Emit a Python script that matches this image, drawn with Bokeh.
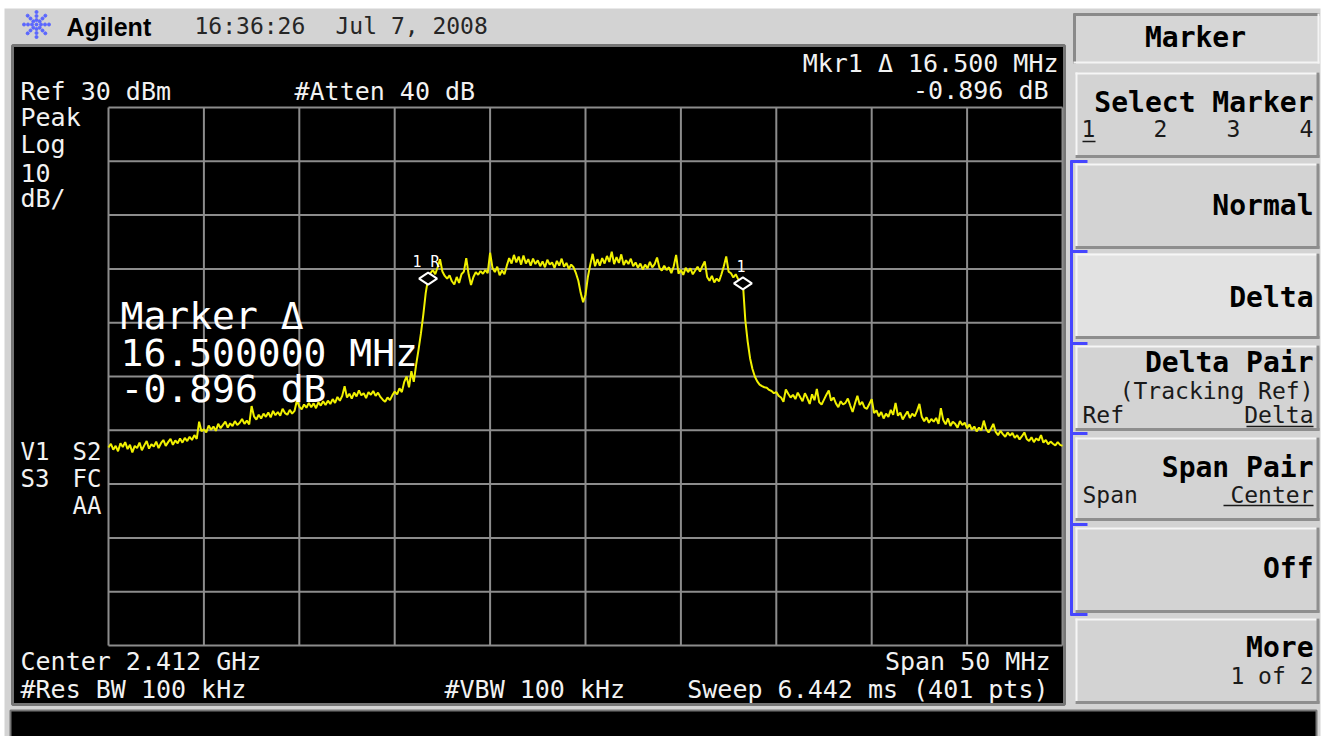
import math
import numpy as np
from bokeh.plotting import figure
from bokeh.models import Range1d
from bokeh.core.properties import value
from bokeh.embed import file_html
from bokeh.resources import INLINE

# ---------------- instrument settings / data ----------------
center_ghz = 2.412
span_ghz = 0.050
n_pts = 401
ref_dbm = 30.0
db_per_div = 10.0
n_div = 10

trace_dbm = [
    -33.2, -32.5, -33.6, -32.9, -33.9, -32.4, -33.1, -32.2, -33.5, -32.7, -34.1, -32.9, -33.3, -32.3, -33.7, -32.8, -32.0, -33.4, -32.6, -33.0,
    -32.1, -33.3, -32.4, -31.8, -32.9, -32.2, -31.6, -32.7, -31.9, -32.4, -31.5, -32.3, -31.4, -32.0, -31.2, -31.8, -30.9, -31.6, -28.4, -30.2,
    -29.8, -30.4, -29.1, -29.9, -29.3, -30.1, -28.8, -29.6, -29.0, -28.4, -29.5, -28.7, -29.2, -28.3, -29.0, -28.6, -27.9, -28.8, -28.2, -28.9,
    -25.5, -27.4, -28.0, -27.1, -27.8, -26.9, -27.5, -26.7, -27.6, -26.4, -27.2, -26.6, -27.3, -26.0, -26.8, -27.1, -26.2, -26.9, -26.4, -24.4,
    -25.6, -26.1, -25.2, -25.8, -24.9, -25.7, -25.0, -25.9, -24.8, -25.4, -24.6, -25.3, -24.5, -25.1, -24.2, -24.9, -23.8, -24.5, -23.6, -21.8,
    -23.9, -23.2, -24.1, -23.0, -23.7, -22.6, -23.5, -23.1, -24.0, -22.9, -23.4, -22.7, -23.6, -23.0, -23.8, -24.3, -24.7, -23.9, -24.4, -23.5,
    -22.8, -23.3, -22.2, -22.9, -21.0, -20.0, -22.0, -19.0, -21.0, -17.8, -15.0, -12.0, -8.5, -4.5, -1.804, -0.8, -0.2, -1.0, 0.3, 1.8,
    -0.5, -1.3, -1.8, -1.2, -2.3, -2.9, -1.5, -2.6, -1.0, -0.5, 2.0, -1.0, -3.0, -1.5, -0.6, -1.1, -0.4, -0.9, -0.2, -0.8,
    3.0, 0.2, -0.6, 0.4, -1.2, -0.3, -1.0, 0.6, 2.0, 1.0, 2.6, 1.2, 2.3, 0.8, 2.5, 1.0, 1.8, 0.6, 1.9, 0.9,
    1.6, 0.5, 1.4, 0.3, 1.7, 0.8, 1.2, 0.2, 1.5, 0.6, 1.9, 0.4, 1.1, 0.0, 0.8, 0.3, -0.8, -2.2, -4.5, -6.2,
    -4.8, -1.5, 0.8, 2.8, 0.5, 1.8, 0.6, 2.0, 1.0, 2.4, 1.3, 3.2, 0.9, 2.2, 1.1, 2.7, 0.7, 1.6, 0.9, 1.9,
    0.5, 1.2, 0.2, 1.0, -0.1, 0.8, 0.1, 1.3, 0.3, 0.9, 2.1, 0.2, -0.3, 0.6, -0.2, 0.3, -0.8, 0.5, 2.6, -0.9,
    -0.2, -1.1, 0.2, -0.6, 0.1, -1.0, -0.3, 0.4, -0.5, 0.5, 1.4, -1.5, -2.2, -1.3, -2.5, -1.8, -2.3, -1.0, 0.5, 2.3,
    -0.5, -0.8, -1.6, -1.0, -1.9, -2.3, -2.7, -9.5, -13.5, -16.6, -18.6, -20.0, -20.9, -21.5, -21.8, -22.0, -22.1, -22.5, -22.7, -23.1,
    -22.9, -23.6, -23.9, -24.7, -22.4, -23.2, -23.9, -23.4, -24.2, -23.0, -23.8, -24.6, -23.1, -24.0, -25.1, -23.3, -24.4, -22.3, -24.8, -25.2,
    -24.3, -23.4, -22.6, -24.5, -23.9, -25.0, -25.7, -24.6, -25.2, -24.9, -24.1, -25.4, -26.6, -25.0, -23.6, -25.3, -24.7, -25.8, -26.0, -25.1,
    -24.2, -26.8, -26.3, -27.4, -26.6, -27.8, -26.9, -27.5, -26.2, -27.1, -24.9, -27.3, -26.7, -28.0, -27.2, -26.5, -27.7, -26.9, -27.4, -26.4,
    -25.1, -27.5, -28.3, -27.6, -28.6, -27.9, -28.4, -27.7, -28.8, -25.9, -28.1, -28.9, -27.8, -29.2, -28.4, -28.8, -29.5, -28.3, -29.0, -28.6,
    -29.6, -28.9, -29.9, -29.3, -30.2, -29.5, -30.0, -28.2, -29.8, -30.4, -29.7, -28.8, -30.3, -30.9, -30.1, -30.7, -31.2, -30.4, -31.0, -30.5,
    -31.4, -30.9, -31.7, -31.1, -30.4, -31.6, -32.0, -31.3, -32.2, -31.5, -31.9, -30.9, -32.3, -31.8, -32.6, -32.1, -32.5, -32.8, -32.2, -32.7, -32.9,
]
assert len(trace_dbm) == n_pts

marker_ref_ghz = 2.40375     # marker 1R
marker_delta_ghz = 2.42025   # marker 1 (delta 16.5 MHz)
marker_labels = ["1 R", "1"]

header_time = ["16:36:26", "Jul 7, 2008"]
ref_label = "Ref 30 dBm"
atten_label = "#Atten 40 dB"
mkr_line1 = "Mkr1 Δ 16.500 MHz"
mkr_line2 = "-0.896 dB"
left_labels = ["Peak", "Log", "10", "dB/"]
big_marker = ["Marker Δ", "16.500000 MHz", "-0.896 dB"]
center_label = "Center 2.412 GHz"
span_label = "Span 50 MHz"
rbw_label = "#Res BW 100 kHz"
vbw_label = "#VBW 100 kHz"
sweep_label = "Sweep 6.442 ms (401 pts)"

# ---------------- geometry (page pixels) ----------------
W, H = 1326, 736
PG = 0
GL, GR, GT, GB = 108, 1062, 107, 645

f0 = center_ghz - span_ghz / 2
f1 = center_ghz + span_ghz / 2
step = span_ghz / (n_pts - 1)
freqs = [f0 + i * step for i in range(n_pts)]
bottom_dbm = ref_dbm - db_per_div * n_div

sx = (GR - GL) / (f1 - f0)
sy = (GB - GT) / (ref_dbm - bottom_dbm)
x_start = f0 - (GL - PG) / sx
x_end = f1 + (PG + W - GR) / sx
y_end = ref_dbm + (GT - PG) / sy
y_start = bottom_dbm - (PG + H - GB) / sy

BG = "#d3d3d3"
p = figure(width=W, height=H, x_range=Range1d(x_start, x_end), y_range=Range1d(y_start, y_end),
           x_axis_type=None, y_axis_type=None, toolbar_location=None, output_backend="svg",
           min_border=0, title=None, background_fill_color="#ffffff", border_fill_color="#ffffff",
           outline_line_color=None)
p.extra_x_ranges = {"px": Range1d(PG, PG + W)}
p.extra_y_ranges = {"px": Range1d(PG + H, PG)}

PX = dict(x_range_name="px", y_range_name="px")
MONO = "DejaVu Sans Mono"


def box(l, r, t, b, fill, line=None, lw=1):
    p.quad(left=[l], right=[r], top=[t], bottom=[b], fill_color=fill,
           line_color=line, line_width=lw, **PX)


def seg(x0, y0, x1, y1, color, lw):
    p.segment(x0=[x0], y0=[y0], x1=[x1], y1=[y1], line_color=color, line_width=lw, **PX)


def txt(x, y, s, size, color, align="left", bold=False, font=MONO):
    p.text(x=[x], y=[y], text=[s], text_font=value(font), text_font_size=f"{size}px",
           text_color=color, text_align=align, text_baseline="middle",
           text_font_style="bold" if bold else "normal", **PX)


# ---------------- instrument frame ----------------
box(4, 1320, 8, 740, BG)
box(12, 1064, 45, 704, "#000000", "#767676", 3)
box(10, 1316, 710, 745, "#000000", "#767676", 2)

# header
ang = np.arange(8) * math.pi / 4
lx, ly = [], []
for r in (4.5, 8.5, 12.5):
    lx += list(36 + r * np.cos(ang))
    ly += list(24 + r * np.sin(ang))
p.scatter(x=lx, y=ly, size=3, color="#5a66ff", **PX)
p.scatter(x=[36], y=[24], size=3, color="#5a66ff", **PX)
txt(66, 26, "Agilent", 25, "#000000", bold=True, font="Liberation Sans")
txt(194, 25, header_time[0], 23, "#262626")
txt(335, 25, header_time[1], 23, "#262626")

# ---------------- softkeys ----------------
box(1073, 1319, 13, 63, "#d6d6d6")
seg(1073, 14, 1319, 14, "#8a8a8a", 3)
seg(1074, 13, 1074, 63, "#8a8a8a", 3)
seg(1073, 62, 1319, 62, "#f4f4f4", 2)
seg(1318, 13, 1318, 63, "#f4f4f4", 2)
txt(1195, 37, "Marker", 28, "#000000", align="center", bold=True)

keys = [
    (72, 157, "#d3d3d3"),
    (163, 248, "#d3d3d3"),
    (253, 338, "#e2e2e2"),
    (345, 430, "#d3d3d3"),
    (437, 520, "#d3d3d3"),
    (527, 612, "#d3d3d3"),
    (618, 703, "#d3d3d3"),
]
KL, KR = 1075, 1319
for t, b, fill in keys:
    box(KL, KR, t, b, fill)
    seg(KL, t + 1, KR, t + 1, "#f6f6f6", 2)
    seg(KL + 1, t, KL + 1, b, "#f6f6f6", 2)
    seg(KL, b - 1, KR, b - 1, "#8e8e8e", 3)
    seg(KR - 1.5, t, KR - 1.5, b, "#8e8e8e", 3)

# blue bracket
BL = "#4646ff"
seg(1071, 160, 1071, 615, BL, 3)
for ty in (161, 251, 343, 433, 524, 614):
    seg(1070, ty, 1087, ty, BL, 3)

KT = 1313
txt(KT, 102, "Select Marker", 28, "#000000", align="right", bold=True)
for xx, d in zip((1088, 1160, 1233, 1306), ("1", "2", "3", "4")):
    txt(xx, 128, d, 23, "#1a1a1a", align="center")
seg(1082, 141, 1095, 141, "#1a1a1a", 1.5)
txt(KT, 205, "Normal", 28, "#000000", align="right", bold=True)
txt(KT, 297, "Delta", 28, "#000000", align="right", bold=True)
txt(KT, 362, "Delta Pair", 28, "#000000", align="right", bold=True)
txt(KT, 390, "(Tracking Ref)", 23, "#1a1a1a", align="right")
txt(1082, 414, "Ref", 23, "#1a1a1a")
txt(KT, 414, "Delta", 23, "#1a1a1a", align="right")
seg(1246, 426, 1313, 426, "#1a1a1a", 1.5)
txt(KT, 467, "Span Pair", 28, "#000000", align="right", bold=True)
txt(1082, 494, "Span", 23, "#1a1a1a")
txt(KT, 494, "Center", 23, "#1a1a1a", align="right")
seg(1223, 505, 1313, 505, "#1a1a1a", 1.5)
txt(KT, 568, "Off", 28, "#000000", align="right", bold=True)
txt(KT, 647, "More", 28, "#000000", align="right", bold=True)
txt(KT, 675, "1 of 2", 23, "#1a1a1a", align="right")

# ---------------- graticule (data coordinates) ----------------
div_f = [f0 + k * span_ghz / n_div for k in range(n_div + 1)]
div_db = [ref_dbm - k * db_per_div for k in range(n_div + 1)]
GC = "#8c8c8c"
p.segment(x0=div_f, y0=[bottom_dbm] * len(div_f), x1=div_f, y1=[ref_dbm] * len(div_f),
          line_color=GC, line_width=2)
p.segment(x0=[f0] * len(div_db), y0=div_db, x1=[f1] * len(div_db), y1=div_db,
          line_color=GC, line_width=2)

# ---------------- trace ----------------
p.line(freqs, trace_dbm, line_color="#f0f000", line_width=2)

# markers
m_idx = [round((m - f0) / step) for m in (marker_ref_ghz, marker_delta_ghz)]
m_x = [freqs[i] for i in m_idx]
m_y = [trace_dbm[i] for i in m_idx]
p.scatter(m_x, m_y, marker="diamond", size=18, angle=math.pi / 2,
          fill_color="#000000", line_color="#ffffff", line_width=2)
p.text(m_x, m_y, text=marker_labels, text_font=value(MONO), text_font_size="15px",
       text_color="#ffffff", text_align="center", text_baseline="middle",
       x_offset=-2, y_offset=-17)

# ---------------- screen annotations ----------------
WH = "#f2f2f2"
txt(20, 91, ref_label, 25, WH)
txt(294, 91, atten_label, 25, WH)
txt(1058, 63, mkr_line1, 25, WH, align="right")
txt(1048, 90, mkr_line2, 25, WH, align="right")
for yy, s in zip((117, 144, 172, 198), left_labels):
    txt(20, yy, s, 25, WH)
txt(20, 451, "V1", 24, WH)
txt(101, 451, "S2", 24, WH, align="right")
txt(20, 478, "S3", 24, WH)
txt(101, 478, "FC", 24, WH, align="right")
txt(101, 505, "AA", 24, WH, align="right")
for yy, s in zip((315, 352, 388), big_marker):
    txt(120, yy, s, 38, "#ffffff")
txt(20, 661, center_label, 25, WH)
txt(1050, 661, span_label, 25, WH, align="right")
txt(20, 689, rbw_label, 25, WH)
txt(444, 689, vbw_label, 25, WH)
txt(1048, 689, sweep_label, 25, WH, align="right")

open("out.html", "w").write(file_html(p, INLINE))
